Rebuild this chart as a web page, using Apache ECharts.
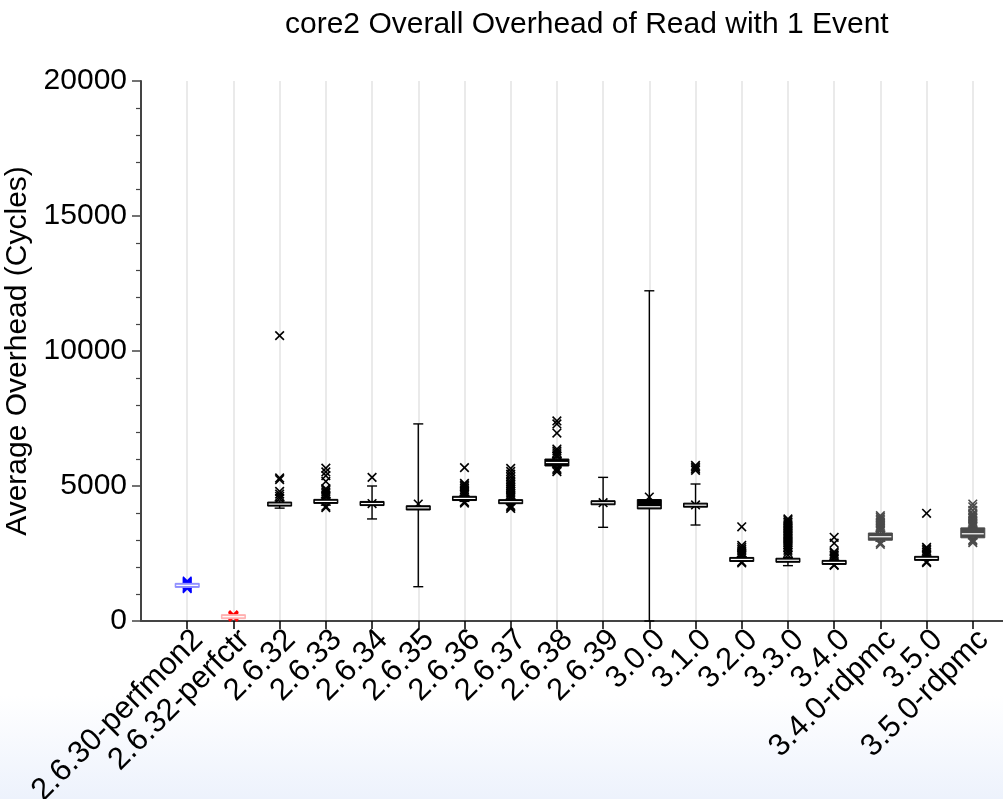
<!DOCTYPE html>
<html>
<head>
<meta charset="utf-8">
<script src="https://cdn.jsdelivr.net/npm/echarts@6/dist/echarts.min.js"></script>
<style>
  html, body { margin: 0; padding: 0; background: #fff; }
  #chart { width: 1003px; height: 799px; }
</style>
</head>
<body>
<div id="chart"></div>
<script>
// Kernel / interface variants measured on core2
const categories = [
  '2.6.30-perfmon2', '2.6.32-perfctr', '2.6.32', '2.6.33', '2.6.34', '2.6.35',
  '2.6.36', '2.6.37', '2.6.38', '2.6.39', '3.0.0', '3.1.0', '3.2.0', '3.3.0',
  '3.4.0', '3.4.0-rdpmc', '3.5.0', '3.5.0-rdpmc'
];

// Box statistics (cycles)
const whiskerLow  = [1260, 130, 4180, 4290, 3780, 1270, 4430, 4330, 5700, 3470,     0, 3555, 2220, 2050, 2120, 2950, 2250, 3050];
const quartile1   = [1290, 150, 4290, 4380, 4300, 4130, 4480, 4370, 5760, 4330,  4170, 4250, 2240, 2200, 2140, 3010, 2280, 3100];
const medians     = [1320, 160, 4330, 4430, 4350, 4190, 4540, 4420, 5870, 4380,  4230, 4290, 2280, 2250, 2170, 3120, 2320, 3230];
const quartile3   = [1350, 175, 4380, 4470, 4410, 4250, 4600, 4460, 5980, 4430,  4480, 4340, 2320, 2290, 2210, 3240, 2360, 3430];
const whiskerHigh = [1380, 200, 4450, 4560, 5000, 7300, 4650, 4510, 6050, 5320, 12230, 5074, 2380, 2350, 2260, 3320, 2400, 3480];

// Individual samples drawn as crosses (mostly outliers)
const samplePoints = [
  [1200, 1240, 1280, 1320, 1360, 1400, 1440, 1480],
  [160, 190, 210],
  [10570, 5300, 5240, 4800, 4700, 4620, 4540],
  [5660, 5520, 5380, 5170, 4900, 4840, 4780, 4720, 4660, 4600, 4250, 4200],
  [5320, 4350],
  [4330],
  [5680, 5100, 5040, 4980, 4920, 4860, 4800, 4740, 4690, 4420, 4370],
  [5650, 5540, 5440, 5340, 5240, 5150, 5080, 5010, 4940, 4870, 4800, 4740, 4680, 4620, 4570, 4280, 4220, 4170],
  [7410, 7300, 6960, 6370, 6300, 6230, 6160, 6100, 5650, 5590, 5530],
  [4380],
  [4590],
  [5760, 5700, 5640, 5580, 4300],
  [3490, 2800, 2720, 2650, 2590, 2530, 2470, 2420, 2190, 2150],
  [3780, 3720, 3660, 3600, 3540, 3480, 3420, 3360, 3300, 3240, 3180, 3120, 3060, 3000, 2940, 2880, 2820, 2760, 2700, 2620, 2540, 2440],
  [3100, 2880, 2560, 2500, 2440, 2380, 2320, 2080, 2060],
  [3900, 3840, 3780, 3720, 3660, 3600, 3540, 3480, 3420, 3360, 2900, 2840],
  [3990, 2730, 2670, 2610, 2550, 2490, 2440, 2200, 2160],
  [4330, 4230, 4100, 3980, 3920, 3860, 3800, 3740, 3680, 3620, 3560, 3510, 3010, 2960, 2900]
];

const yAxisTicks = { min: 0, max: 20000, step: 5000 };

// Variant colouring: perfmon2 blue, perfctr red, rdpmc grey, everything else black
function markColor(name) {
  if (name.indexOf('perfmon2') >= 0) return '#0000ff';
  if (name.indexOf('perfctr') >= 0) return '#ff0000';
  if (name.indexOf('rdpmc') >= 0) return '#4a4a4a';
  return '#000000';
}
function boxColor(name) {
  if (name.indexOf('perfmon2') >= 0) return '#8c8cff';
  if (name.indexOf('perfctr') >= 0) return '#ffb0b0';
  return markColor(name);
}

// Axis data padded with an empty slot at each end so categories sit off the axis edges
const axisData = [''].concat(categories, ['']);
const isRealSlot = (i) => i > 0 && i <= categories.length;

const boxData = categories.map((c, i) => [i + 1, whiskerLow[i], quartile1[i], medians[i], quartile3[i], whiskerHigh[i]]);
const pointData = [];
samplePoints.forEach((list, i) => list.forEach(v => pointData.push([i + 1, v])));

const FONT = "'Liberation Sans', Arial, Helvetica, sans-serif";

// Filled box with a white median stroke, whiskers with short caps
function renderBox(params, api) {
  const idx = api.value(0);
  const name = categories[idx - 1];
  const col = boxColor(name);
  const pLow = api.coord([idx, api.value(1)]);
  const pQ1 = api.coord([idx, api.value(2)]);
  const pMed = api.coord([idx, api.value(3)]);
  const pQ3 = api.coord([idx, api.value(4)]);
  const pHigh = api.coord([idx, api.value(5)]);
  const cx = pLow[0];
  const half = 12, cap = 5;
  const ls = { stroke: col, lineWidth: 1.4, fill: null };
  const top = Math.min(pQ3[1], pMed[1] - 1.5);
  const bottom = Math.max(pQ1[1], pMed[1] + 1.5);
  return {
    type: 'group',
    children: [
      { type: 'line', shape: { x1: cx, y1: pLow[1], x2: cx, y2: pQ1[1] }, style: ls },
      { type: 'line', shape: { x1: cx, y1: pQ3[1], x2: cx, y2: pHigh[1] }, style: ls },
      { type: 'line', shape: { x1: cx - cap, y1: pLow[1], x2: cx + cap, y2: pLow[1] }, style: ls },
      { type: 'line', shape: { x1: cx - cap, y1: pHigh[1], x2: cx + cap, y2: pHigh[1] }, style: ls },
      { type: 'rect', shape: { x: cx - half, y: top - 0.5, width: half * 2, height: bottom - top + 1 },
        style: { fill: col, stroke: col, lineWidth: 1 } },
      { type: 'line', shape: { x1: cx - half + 1, y1: pMed[1], x2: cx + half - 1, y2: pMed[1] },
        style: { stroke: '#ffffff', lineWidth: 1.2 } }
    ]
  };
}

function renderCross(params, api) {
  const idx = api.value(0);
  const name = categories[idx - 1];
  const col = markColor(name);
  const p = api.coord([idx, api.value(1)]);
  const s = 4.3;
  const w = name.indexOf('perfctr') >= 0 ? 2.6 : 1.6;
  const st = { stroke: col, lineWidth: w, fill: null };
  return {
    type: 'group',
    children: [
      { type: 'line', shape: { x1: p[0] - s, y1: p[1] - s, x2: p[0] + s, y2: p[1] + s }, style: st },
      { type: 'line', shape: { x1: p[0] - s, y1: p[1] + s, x2: p[0] + s, y2: p[1] - s }, style: st }
    ]
  };
}

const chart = echarts.init(document.getElementById('chart'), null, { renderer: 'canvas' });
chart.setOption({
  animation: false,
  backgroundColor: {
    type: 'linear', x: 0, y: 0, x2: 0, y2: 1,
    colorStops: [
      { offset: 0, color: '#ffffff' },
      { offset: 0.87, color: '#ffffff' },
      { offset: 1, color: '#edf2fc' }
    ]
  },
  title: {
    text: 'core2 Overall Overhead of Read with 1 Event',
    left: 280, top: 5,
    textStyle: { fontFamily: FONT, fontSize: 30, fontWeight: 'normal', color: '#000' }
  },
  grid: { left: 141, top: 81, bottom: 178, right: -16, containLabel: false, outerBoundsMode: 'none' },
  xAxis: {
    type: 'category',
    data: axisData,
    boundaryGap: false,
    axisLine: { show: true, onZero: false, lineStyle: { color: '#444', width: 2 } },
    axisTick: { show: true, interval: isRealSlot, length: 8, lineStyle: { color: '#000', width: 1.5 } },
    axisLabel: { interval: isRealSlot, rotate: 45, margin: 3, verticalAlign: 'top',
      fontFamily: FONT, fontSize: 31, color: '#000' },
    splitLine: { show: true, interval: isRealSlot, lineStyle: { color: '#e3e3e3', width: 1.5 } }
  },
  yAxis: {
    type: 'value',
    min: yAxisTicks.min, max: yAxisTicks.max, interval: yAxisTicks.step,
    name: 'Average Overhead (Cycles)',
    nameLocation: 'middle', nameRotate: 90, nameGap: 96,
    nameTextStyle: { fontFamily: FONT, fontSize: 30, color: '#000' },
    axisLine: { show: true, lineStyle: { color: '#444', width: 2 } },
    axisTick: { show: true, length: 9, lineStyle: { color: '#444', width: 1.5 } },
    minorTick: { show: true, splitNumber: 5, length: 5, lineStyle: { color: '#444', width: 1.2 } },
    axisLabel: { margin: 14, fontFamily: FONT, fontSize: 30, color: '#000', formatter: (v) => String(v) },
    splitLine: { show: false }
  },
  series: [
    { type: 'custom', name: 'samples', renderItem: renderCross, data: pointData, encode: { x: 0, y: 1 }, z: 2, clip: false },
    { type: 'custom', name: 'boxes', renderItem: renderBox, data: boxData, encode: { x: 0, y: [1, 2, 3, 4, 5] }, z: 3, clip: false }
  ]
});
</script>
</body>
</html>
